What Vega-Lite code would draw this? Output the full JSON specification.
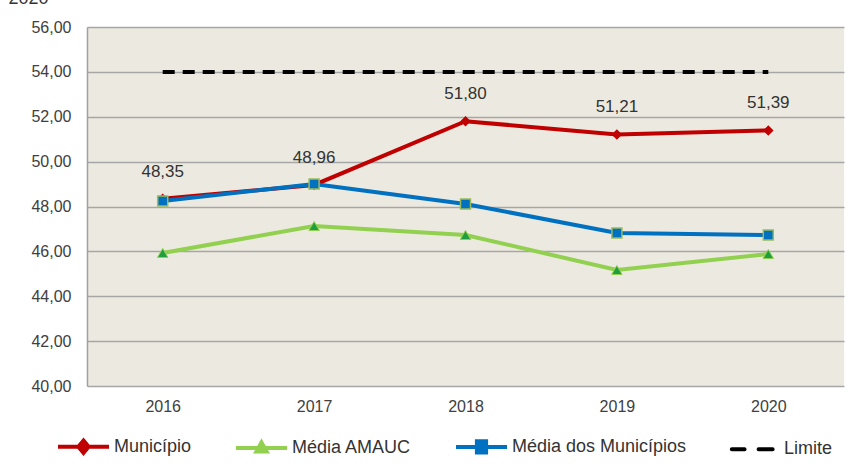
{
  "$schema": "https://vega.github.io/schema/vega-lite/v6.json",
  "width": 757,
  "height": 359,
  "autosize": {"type": "none"},
  "padding": {"left": 87, "top": 27, "right": 10, "bottom": 80},
  "background": "#ffffff",
  "config": {
    "locale": {"number": {"decimal": ",", "thousands": ".", "grouping": [3], "currency": ["R$", ""]}},
    "view": {"fill": "#ECEAE0", "stroke": null},
    "font": "Liberation Sans"
  },
  "data": {
    "values": [
      {"ano": "2016", "serie": "Município", "valor": 48.35},
      {"ano": "2017", "serie": "Município", "valor": 48.96},
      {"ano": "2018", "serie": "Município", "valor": 51.80},
      {"ano": "2019", "serie": "Município", "valor": 51.21},
      {"ano": "2020", "serie": "Município", "valor": 51.39},
      {"ano": "2016", "serie": "Média AMAUC", "valor": 45.93},
      {"ano": "2017", "serie": "Média AMAUC", "valor": 47.13},
      {"ano": "2018", "serie": "Média AMAUC", "valor": 46.73},
      {"ano": "2019", "serie": "Média AMAUC", "valor": 45.17},
      {"ano": "2020", "serie": "Média AMAUC", "valor": 45.88},
      {"ano": "2016", "serie": "Média dos Municípios", "valor": 48.25},
      {"ano": "2017", "serie": "Média dos Municípios", "valor": 49.00},
      {"ano": "2018", "serie": "Média dos Municípios", "valor": 48.11},
      {"ano": "2019", "serie": "Média dos Municípios", "valor": 46.82},
      {"ano": "2020", "serie": "Média dos Municípios", "valor": 46.73},
      {"ano": "2016", "serie": "Limite", "valor": 54},
      {"ano": "2017", "serie": "Limite", "valor": 54},
      {"ano": "2018", "serie": "Limite", "valor": 54},
      {"ano": "2019", "serie": "Limite", "valor": 54},
      {"ano": "2020", "serie": "Limite", "valor": 54}
    ]
  },
  "encoding": {
    "x": {"field": "ano", "type": "ordinal", "scale": {"type": "point", "padding": 0.5},
      "axis": {"title": null, "labelAngle": 0, "domain": false, "ticks": false, "labelFontSize": 16, "labelColor": "#404040", "labelPadding": 12, "grid": false}},
    "y": {"field": "valor", "type": "quantitative", "scale": {"domain": [40, 56], "nice": false, "zero": false},
      "axis": {"title": "2020", "titleAngle": 0, "titleAlign": "left", "titleBaseline": "alphabetic", "titleX": -79, "titleY": -24, "titleFontSize": 18, "titleFontWeight": "normal", "titleColor": "#333333",
        "values": [40, 42, 44, 46, 48, 50, 52, 54, 56], "format": ",.2f", "labelFontSize": 16, "labelColor": "#404040", "labelPadding": 16, "ticks": false, "domainColor": "#A0A0A0", "domainWidth": 1.5, "gridColor": "#A6A6A6", "gridWidth": 1.5}}
  },
  "layer": [
    {
      "transform": [{"filter": "datum.serie === 'Limite'"}],
      "mark": {"type": "line", "strokeWidth": 4, "strokeDash": [12, 8]},
      "encoding": {
        "color": {"field": "serie", "type": "nominal",
          "scale": {"domain": ["Município", "Média AMAUC", "Média dos Municípios", "Limite"], "range": ["#C00000", "#92D050", "#0070C0", "#000000"]},
          "legend": {
            "orient": "none", "legendX": -31, "legendY": 392, "direction": "horizontal", "columns": 4, "title": null,
            "symbolSize": 2601, "symbolStrokeWidth": 4, "labelFontSize": 18, "labelColor": "#333333", "labelOffset": 3, "labelLimit": 400, "columnPadding": 36,
            "encode": {"symbols": {"update": {
              "shape": {"signal": "datum.value === 'Município' ? 'M-1,0L1,0M0,-0.24L0.2,0L0,0.24L-0.2,0Z' : datum.value === 'Média AMAUC' ? 'M-1,0L1,0M0,-0.22L0.2,0.14L-0.2,0.14Z' : datum.value === 'Média dos Municípios' ? 'M-1,0L1,0M-0.18,-0.22L0.18,-0.22L0.18,0.22L-0.18,0.22Z' : 'M-0.85,0L-0.35,0M0.2,0L0.75,0'"},
              "fill": {"signal": "datum.value === 'Município' ? '#C00000' : datum.value === 'Média AMAUC' ? '#1E9E3E' : datum.value === 'Média dos Municípios' ? '#0070C0' : 'transparent'"},
              "stroke": {"signal": "datum.value === 'Município' ? '#C00000' : datum.value === 'Média AMAUC' ? '#92D050' : datum.value === 'Média dos Municípios' ? '#0070C0' : '#000000'"},
              "strokeCap": {"signal": "datum.value === 'Limite' ? 'round' : 'butt'"}
            }}}
          }}
      }
    },
    {
      "transform": [{"filter": "datum.serie === 'Município'"}],
      "mark": {"type": "line", "strokeWidth": 4},
      "encoding": {"color": {"field": "serie", "type": "nominal"}}
    },
    {
      "transform": [{"filter": "datum.serie === 'Município'"}],
      "mark": {"type": "point", "shape": "diamond", "filled": true, "size": 110, "color": "#C00000", "opacity": 1}
    },
    {
      "transform": [{"filter": "datum.serie === 'Média AMAUC'"}],
      "mark": {"type": "line", "strokeWidth": 4},
      "encoding": {"color": {"field": "serie", "type": "nominal"}}
    },
    {
      "transform": [{"filter": "datum.serie === 'Média AMAUC'"}],
      "mark": {"type": "point", "shape": "triangle-up", "filled": true, "size": 110, "fill": "#1E9E3E", "stroke": "#92D050", "strokeWidth": 1, "opacity": 1, "fillOpacity": 1}
    },
    {
      "transform": [{"filter": "datum.serie === 'Média dos Municípios'"}],
      "mark": {"type": "line", "strokeWidth": 4},
      "encoding": {"color": {"field": "serie", "type": "nominal"}}
    },
    {
      "transform": [{"filter": "datum.serie === 'Média dos Municípios'"}],
      "mark": {"type": "point", "shape": "square", "filled": true, "size": 100, "fill": "#0070C0", "stroke": "#9BBB59", "strokeWidth": 1.5, "opacity": 1, "fillOpacity": 1}
    },
    {
      "transform": [{"filter": "datum.serie === 'Município'"}],
      "mark": {"type": "text", "dy": -27, "fontSize": 17, "color": "#333333"},
      "encoding": {"text": {"field": "valor", "type": "quantitative", "format": ",.2f"}}
    }
  ]
}
